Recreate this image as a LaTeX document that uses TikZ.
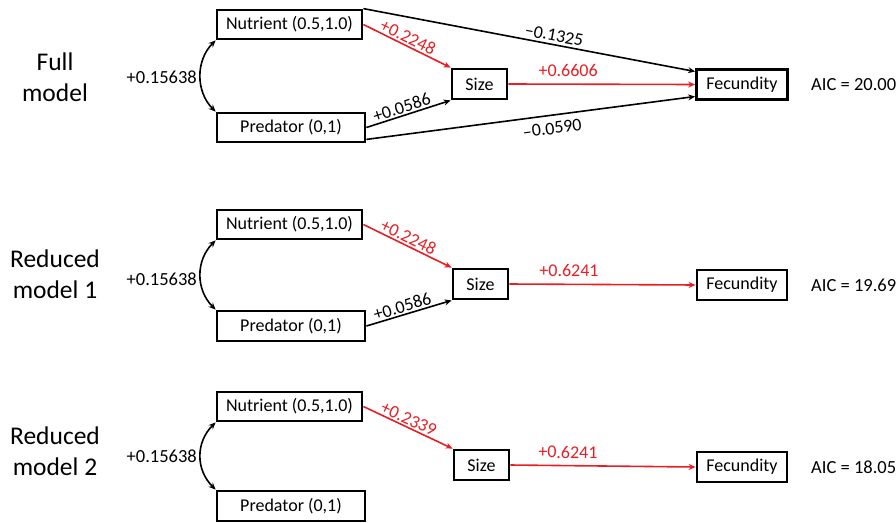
\documentclass[tikz,border=0pt]{standalone}
\usepackage{fontspec}
\setmainfont{Carlito}
\usetikzlibrary{arrows.meta,calc}
\definecolor{pathred}{RGB}{232,30,36}
\tikzset{
  box/.style={draw=black,line width=2.8pt,inner sep=0pt,minimum height=30pt,font=\fontsize{18}{21}\selectfont},
  arr/.style={line width=1.6pt,-{Stealth[length=7pt,width=6pt]}},
  redarr/.style={arr,draw=pathred},
  blkarr/.style={arr,draw=black},
  lbl/.style={font=\fontsize{18}{21}\selectfont,inner sep=1.5pt,sloped},
  redlbl/.style={lbl,text=pathred},
  corr/.style={line width=1.6pt,{Stealth[length=7pt,width=6pt]}-{Stealth[length=7pt,width=6pt]}},
  title/.style={align=center,font=\fontsize{25.5}{31}\selectfont},
  plain/.style={font=\fontsize{18.5}{21}\selectfont,inner sep=0pt}
}
\begin{document}
\begin{tikzpicture}[x=1pt,y=-1pt]
\useasboundingbox (0,0) rectangle (896,522);
% ---------- Full model ----------
\node[title] (t1) at (55,77) {Full\\model};
\node[box,minimum width=145pt,minimum height=29pt] (n1) at (289.5,24.5) {Nutrient (0.5,1.0)};
\node[box,minimum width=148pt,minimum height=29pt] (p1) at (291,127.5) {Predator (0,1)};
\node[box,minimum width=55pt] (s1) at (479.5,84) {Size};
\node[box,minimum width=91pt] (f1) at (742,84.5) {Fecundity};
\node[plain,anchor=west] (a1) at (811,85) {AIC = 20.00};
\node[plain,anchor=east] (c1) at (197,77) {+0.15638};
\draw[corr] (n1.south west) .. controls +(-20,20) and +(-20,-20) .. (p1.north west);
\draw[blkarr] (n1.north east) -- node[lbl,above=1pt,pos=0.57] {–0.1325} ($(f1.west)+(0,-13)$);
\draw[redarr] (n1.east) -- node[redlbl,above=0pt,pos=0.47] {+0.2248} (s1.north west);
\draw[blkarr] (p1.east) -- node[lbl,above=0pt,pos=0.45] {+0.0586} (s1.south west);
\draw[redarr] (s1.east) -- node[redlbl,above=5pt,pos=0.32] {+0.6606} (f1.west);
\draw[blkarr] ($(p1.south east)+(0,-4)$) -- node[lbl,below=5pt,pos=0.56] {–0.0590} ($(f1.west)+(0,12)$);
% ---------- Reduced model 1 ----------
\node[title] (t2) at (55,274) {Reduced\\model 1};
\node[box,minimum width=145pt,minimum height=29pt] (n2) at (289.5,224.5) {Nutrient (0.5,1.0)};
\node[box,minimum width=148pt] (p2) at (291,326) {Predator (0,1)};
\node[box,minimum width=55pt] (s2) at (480.5,284) {Size};
\node[box,minimum width=90pt] (f2) at (742,285) {Fecundity};
\node[plain,anchor=west] (a2) at (811,285) {AIC = 19.69};
\node[plain,anchor=east] (c2) at (197,279) {+0.15638};
\draw[corr] (n2.south west) .. controls +(-20,20) and +(-20,-20) .. (p2.north west);
\draw[redarr] (n2.east) -- node[redlbl,above=0pt,pos=0.47] {+0.2248} (s2.north west);
\draw[blkarr] (p2.east) -- node[lbl,above=0pt,pos=0.45] {+0.0586} (s2.south west);
\draw[redarr] (s2.east) -- node[redlbl,above=5pt,pos=0.32] {+0.6241} (f2.west);
% ---------- Reduced model 2 ----------
\node[title] (t3) at (55,451) {Reduced\\model 2};
\node[box,minimum width=145pt,minimum height=29pt] (n3) at (289.5,406.5) {Nutrient (0.5,1.0)};
\node[box,minimum width=148pt] (p3) at (291,506) {Predator (0,1)};
\node[box,minimum width=55pt] (s3) at (481.5,465) {Size};
\node[box,minimum width=90pt] (f3) at (742,467) {Fecundity};
\node[plain,anchor=west] (a3) at (811,467) {AIC = 18.05};
\node[plain,anchor=east] (c3) at (197,456) {+0.15638};
\draw[corr] (n3.south west) .. controls +(-20,20) and +(-20,-20) .. (p3.north west);
\draw[redarr] (n3.east) -- node[redlbl,above=0pt,pos=0.47] {+0.2339} (s3.north west);
\draw[redarr] (s3.east) -- node[redlbl,above=5pt,pos=0.31] {+0.6241} (f3.west);
\end{tikzpicture}
\end{document}
